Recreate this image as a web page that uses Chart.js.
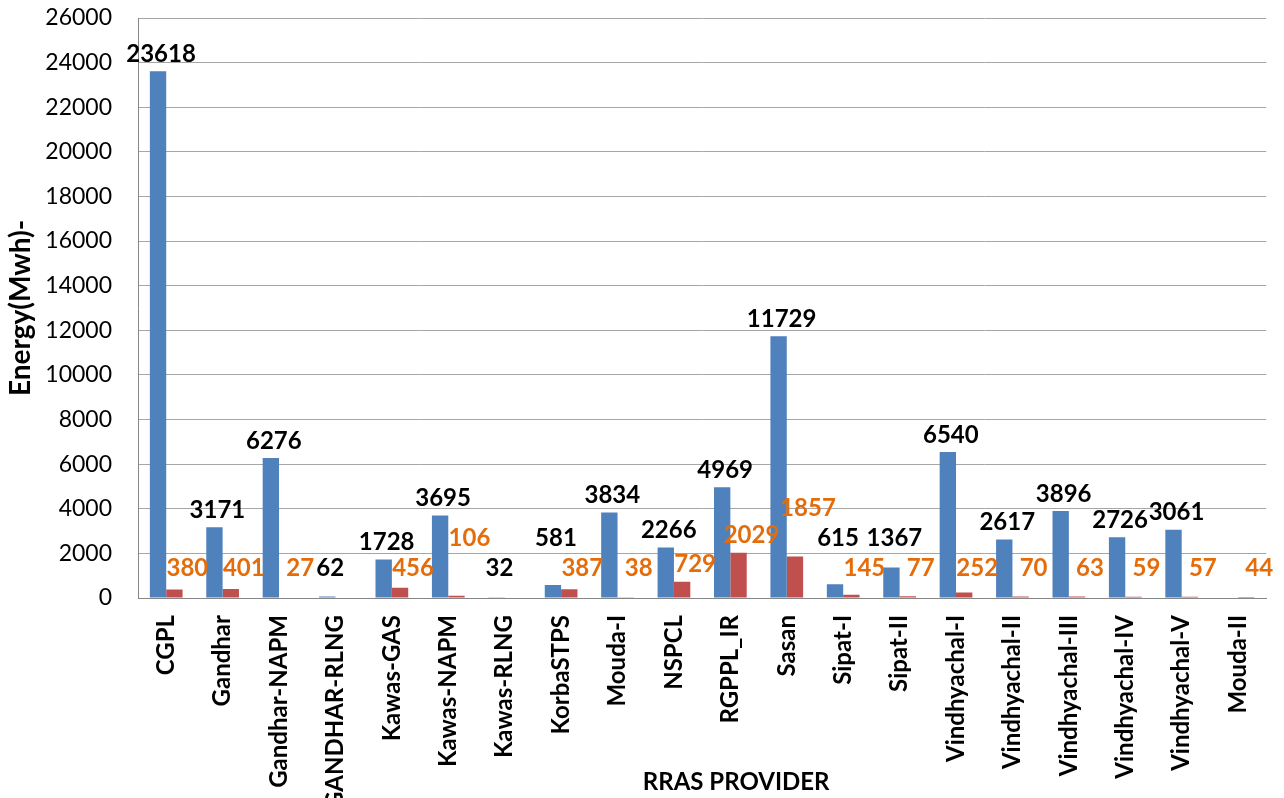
<!DOCTYPE html>
<html>
<head>
<meta charset="utf-8">
<script src="https://cdn.jsdelivr.net/npm/chart.js@4"></script>
<style>
  html, body { margin: 0; padding: 0; background: #fff; }
  #wrap { width: 1284px; height: 798px; }
</style>
</head>
<body>
<div id="wrap"><canvas id="rrasChart" width="1284" height="798"></canvas></div>
<script>
const providers = ['CGPL', 'Gandhar', 'Gandhar-NAPM', 'GANDHAR-RLNG', 'Kawas-GAS', 'Kawas-NAPM',
  'Kawas-RLNG', 'KorbaSTPS', 'Mouda-I', 'NSPCL', 'RGPPL_IR', 'Sasan', 'Sipat-I', 'Sipat-II',
  'Vindhyachal-I', 'Vindhyachal-II', 'Vindhyachal-III', 'Vindhyachal-IV', 'Vindhyachal-V', 'Mouda-II'];

const upEnergy = [23618, 3171, 6276, 62, 1728, 3695, 32, 581, 3834, 2266, 4969, 11729, 615, 1367,
  6540, 2617, 3896, 2726, 3061, null];

const downEnergy = [380, 401, 27, null, 456, 106, null, 387, 38, 729, 2029, 1857, 145, 77,
  252, 70, 63, 59, 57, 44];

const yTicks = [0, 2000, 4000, 6000, 8000, 10000, 12000, 14000, 16000, 18000, 20000, 22000, 24000, 26000];

const FONT = 'Lato';

function overlaps(a, b) {
  return a && b && Math.abs(a.y - b.y) < 24 && Math.abs(a.x - b.x) < (a.w + b.w) / 2 + 2;
}

// value labels above the bars (blue series black, red series orange)
const barLabels = {
  id: 'barLabels',
  afterDatasetsDraw(chart) {
    const ctx = chart.ctx;
    const zeroY = chart.scales.y.getPixelForValue(0);
    const upMeta = chart.getDatasetMeta(0);
    const downMeta = chart.getDatasetMeta(1);
    ctx.save();
    ctx.font = `bold 24px ${FONT}`;
    ctx.textAlign = 'center';
    ctx.textBaseline = 'middle';

    const make = (v, bar, dx, color) => {
      if (v === null) return null;
      const txt = String(v);
      return { txt, color, x: bar.x + dx, y: Math.min(bar.y - 17, zeroY - 30), w: ctx.measureText(txt).width };
    };

    const reds = providers.map((p, i) => make(downEnergy[i], downMeta.data[i], 13, '#E46C0A'));
    const blues = providers.map((p, i) => make(upEnergy[i], upMeta.data[i], 3, '#000000'));

    // nudge labels so they don't sit on top of each other
    providers.forEach((p, i) => {
      if (overlaps(blues[i], reds[i])) blues[i].y = reds[i].y - 30;
      if (i > 0 && overlaps(reds[i - 1], blues[i])) reds[i - 1].y = blues[i].y - 30;
    });

    reds.concat(blues).forEach(l => {
      if (!l) return;
      ctx.fillStyle = l.color;
      ctx.fillText(l.txt, l.x, l.y);
    });
    ctx.restore();
  }
};

// x axis title, sits over the bottom of the rotated labels like in the sheet
const xTitle = {
  id: 'xTitle',
  afterDraw(chart) {
    const ctx = chart.ctx;
    const a = chart.chartArea;
    ctx.save();
    ctx.font = `bold 24px ${FONT}`;
    ctx.fillStyle = '#000';
    ctx.textAlign = 'center';
    ctx.textBaseline = 'middle';
    ctx.fillText('RRAS PROVIDER', (a.left + a.right) / 2 + 34, 782);
    ctx.restore();
  }
};

new Chart(document.getElementById('rrasChart').getContext('2d'), {
  type: 'bar',
  data: {
    labels: providers,
    datasets: [
      {
        label: 'Up',
        data: upEnergy,
        backgroundColor: '#4F81BD',
        barPercentage: 1,
        categoryPercentage: 0.58
      },
      {
        label: 'Down',
        data: downEnergy,
        backgroundColor: '#C0504D',
        barPercentage: 1,
        categoryPercentage: 0.58
      }
    ]
  },
  options: {
    responsive: false,
    animation: false,
    layout: { padding: { top: 18, right: 4, left: 0, bottom: 0 } },
    plugins: {
      legend: { display: false },
      tooltip: { enabled: false }
    },
    scales: {
      x: {
        grid: { display: false, drawTicks: false },
        border: { color: '#868686', width: 1 },
        ticks: {
          autoSkip: false,
          minRotation: 90,
          maxRotation: 90,
          padding: 17,
          color: '#000',
          font: { family: FONT, size: 24, weight: 'bold' }
        },
        afterFit(scale) { scale.height = 200; }
      },
      y: {
        min: 0,
        max: 26000,
        afterBuildTicks(scale) { scale.ticks = yTicks.map(v => ({ value: v })); },
        grid: { color: '#A6A6A6', drawTicks: true, tickLength: 22, tickColor: 'rgba(0,0,0,0)' },
        border: { color: '#868686', width: 1 },
        ticks: {
          padding: 4,
          color: '#000',
          font: { family: FONT, size: 23 },
          callback: v => String(v)
        },
        title: {
          display: true,
          text: 'Energy(Mwh)-',
          color: '#000',
          padding: { top: 4, bottom: 0 },
          font: { family: FONT, size: 28, weight: 'bold' }
        },
        afterFit(scale) { scale.width = 138; }
      }
    }
  },
  plugins: [barLabels, xTitle]
});
</script>
</body>
</html>
